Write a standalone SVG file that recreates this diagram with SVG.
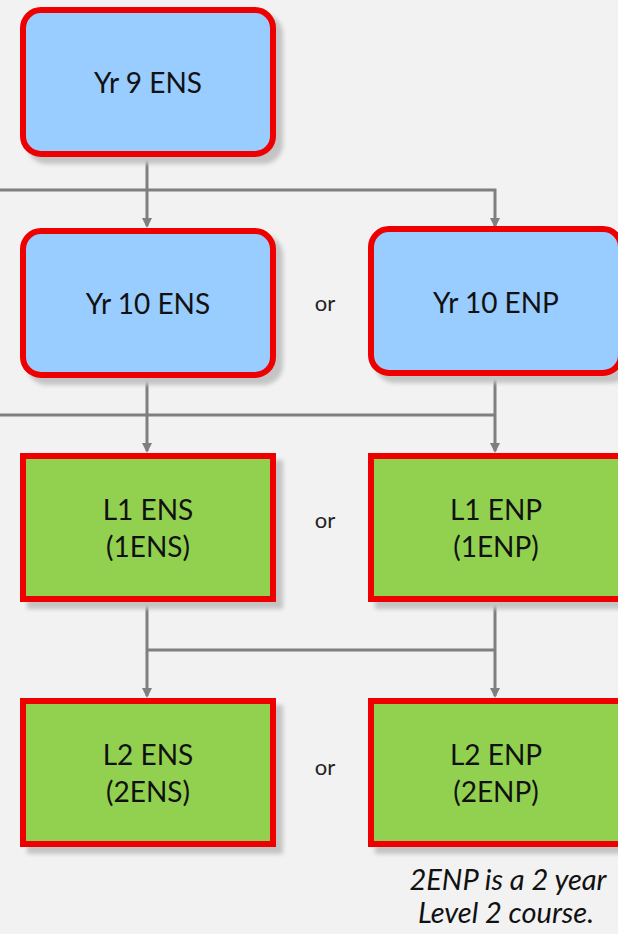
<svg xmlns="http://www.w3.org/2000/svg" width="618" height="934" viewBox="0 0 618 934">
<style>
.bg{fill:#f2f2f2}
.blue{fill:#99ccff;stroke:#ee0000;stroke-width:6}
.green{fill:#92d050;stroke:#ee0000;stroke-width:6}
.sh{fill:#c4c4c4;filter:url(#blur)}
.t{font-family:Lato,"Liberation Sans",sans-serif;font-size:28px;fill:#111;text-anchor:middle}
.or{font-family:Lato,"Liberation Sans",sans-serif;font-size:22px;fill:#222;text-anchor:middle}
.note{font-family:Lato,"Liberation Sans",sans-serif;font-size:29px;font-style:italic;fill:#111;text-anchor:middle}
.c{stroke:#7f7f7f;stroke-width:3;fill:none}
</style>
<defs>
<filter id="blur" x="-10%" y="-10%" width="120%" height="120%"><feGaussianBlur stdDeviation="2"/></filter>
<marker id="ah" markerWidth="10" markerHeight="10" refX="8" refY="5" orient="auto" markerUnits="userSpaceOnUse"><path d="M0,0 L10,5 L0,10 Z" fill="#7f7f7f"/></marker>
</defs>
<rect class="bg" x="0" y="0" width="618" height="934"/>
<g id="connectors">
<path class="c" d="M147,157 V226" marker-end="url(#ah)"/>
<path class="c" d="M0,190 H495 V226" marker-end="url(#ah)"/>
<path class="c" d="M147,378 V451" marker-end="url(#ah)"/>
<path class="c" d="M0,415 H495" />
<path class="c" d="M495,375 V451" marker-end="url(#ah)"/>
<path class="c" d="M147,602 V696" marker-end="url(#ah)"/>
<path class="c" d="M147,650 H495" />
<path class="c" d="M495,602 V696" marker-end="url(#ah)"/>
</g>
<g id="yr9ens">
<rect class="sh" x="27" y="14" width="256" height="150" rx="20"/>
<rect class="blue" x="23" y="10" width="250" height="144" rx="18"/>
<text class="t" x="148" y="93">Yr 9 ENS</text>
</g>
<g id="yr10ens">
<rect class="sh" x="27" y="235" width="256" height="150" rx="20"/>
<rect class="blue" x="23" y="231" width="250" height="144" rx="18"/>
<text class="t" x="148" y="314">Yr 10 ENS</text>
</g>
<g id="yr10enp">
<rect class="sh" x="375" y="233" width="256" height="150" rx="20"/>
<rect class="blue" x="371" y="229" width="250" height="144" rx="18"/>
<text class="t" x="496" y="313">Yr 10 ENP</text>
</g>
<g id="l1ens">
<rect class="sh" x="27" y="460" width="256" height="149"/>
<rect class="green" x="23" y="456" width="250" height="143"/>
<text class="t" x="148" y="520">L1 ENS</text>
<text class="t" x="148" y="557">(1ENS)</text>
</g>
<g id="l1enp">
<rect class="sh" x="375" y="460" width="256" height="149"/>
<rect class="green" x="371" y="456" width="250" height="143"/>
<text class="t" x="496" y="520">L1 ENP</text>
<text class="t" x="496" y="557">(1ENP)</text>
</g>
<g id="l2ens">
<rect class="sh" x="27" y="705" width="256" height="149"/>
<rect class="green" x="23" y="701" width="250" height="143"/>
<text class="t" x="148" y="765">L2 ENS</text>
<text class="t" x="148" y="802">(2ENS)</text>
</g>
<g id="l2enp">
<rect class="sh" x="375" y="705" width="256" height="149"/>
<rect class="green" x="371" y="701" width="250" height="143"/>
<text class="t" x="496" y="765">L2 ENP</text>
<text class="t" x="496" y="802">(2ENP)</text>
</g>
<g id="labels">
<text class="or" x="325" y="311">or</text>
<text class="or" x="325" y="528">or</text>
<text class="or" x="325" y="775">or</text>
<text class="note" x="508" y="890">2ENP is a 2 year</text>
<text class="note" x="506" y="923">Level 2 course.</text>
</g>
</svg>
